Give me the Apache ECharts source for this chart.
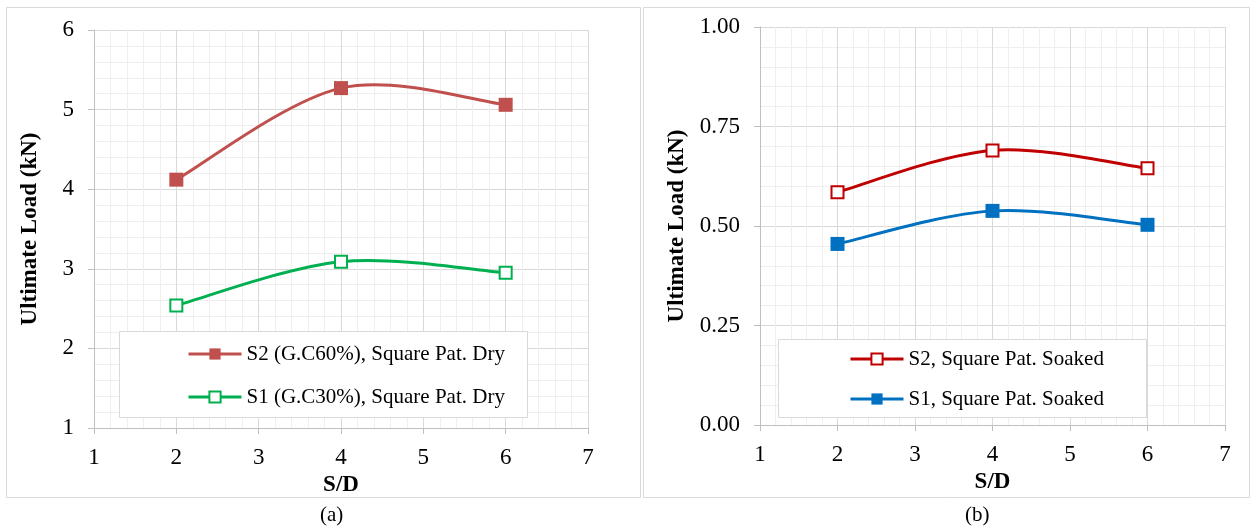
<!DOCTYPE html>
<html>
<head>
<meta charset="utf-8">
<script src="https://cdn.jsdelivr.net/npm/echarts@6/dist/echarts.min.js"></script>
<style>
  html, body { margin: 0; padding: 0; background: #fff; }
  #chart { width: 1253px; height: 528px; }
</style>
</head>
<body>
<div id="chart"></div>
<script>
// S/D spacing ratios
const spacing = [2, 4, 6];

// (a) dry condition, ultimate load in kN
const dryS2 = [4.12, 5.27, 5.06];
const dryS1 = [2.54, 3.09, 2.95];

// (b) soaked condition, ultimate load in kN
const soakedS2 = [0.585, 0.69, 0.645];
const soakedS1 = [0.455, 0.538, 0.503];

const names = {
  dryS2: 'S2 (G.C60%), Square Pat. Dry',
  dryS1: 'S1 (G.C30%), Square Pat. Dry',
  soakedS2: 'S2, Square Pat. Soaked',
  soakedS1: 'S1, Square Pat. Soaked'
};

const colors = {
  dryS2: '#C0504D',
  dryS1: '#00B050',
  soakedS2: '#C00000',
  soakedS1: '#0070C0'
};

const serif = '"Liberation Serif", "Times New Roman", serif';
const pairs = (ys) => spacing.map((x, i) => [x, ys[i]]);

const chart = echarts.init(document.getElementById('chart'), null, { renderer: 'canvas' });

function xAxisFor(gridIndex) {
  return {
    gridIndex, type: 'value', min: 1, max: 7, interval: 1,
    name: 'S/D', nameLocation: 'middle', nameGap: 46,
    nameTextStyle: { fontFamily: serif, fontSize: 23, fontWeight: 'bold', color: '#000' },
    axisLine: { show: true, lineStyle: { color: '#BFBFBF', width: 1 } },
    axisTick: { show: true, length: 6, lineStyle: { color: '#BFBFBF' } },
    axisLabel: { fontFamily: serif, fontSize: 23, color: '#000', margin: 18 },
    splitLine: { show: true, lineStyle: { color: '#D9D9D9', width: 1 } },
    minorTick: { show: true, splitNumber: 5, length: 0 },
    minorSplitLine: { show: true, lineStyle: { color: '#EFEFEF', width: 1 } }
  };
}

function yAxisFor(gridIndex, min, max, interval, fmt, gap) {
  return {
    gridIndex, type: 'value', min, max, interval,
    name: 'Ultimate Load (kN)', nameLocation: 'middle', nameGap: gap,
    nameTextStyle: { fontFamily: serif, fontSize: 23, fontWeight: 'bold', color: '#000' },
    axisLine: { show: true, lineStyle: { color: '#BFBFBF', width: 1 } },
    axisTick: { show: true, length: 6, lineStyle: { color: '#BFBFBF' } },
    axisLabel: { fontFamily: serif, fontSize: 23, color: '#000', margin: 20, formatter: fmt },
    splitLine: { show: true, lineStyle: { color: '#D9D9D9', width: 1 } },
    minorTick: { show: true, splitNumber: 5, length: 0 },
    minorSplitLine: { show: true, lineStyle: { color: '#EFEFEF', width: 1 } }
  };
}

// Markers for each measured point (the connecting curve is drawn separately)
function markerSeries(key, data, hollow, idx) {
  const color = colors[key];
  return {
    name: names[key], type: 'line', xAxisIndex: idx, yAxisIndex: idx,
    data: pairs(data),
    symbol: 'rect', symbolSize: hollow ? 12 : 14,
    lineStyle: { color, width: 3, opacity: 0 },
    itemStyle: hollow
      ? { color: '#fff', borderColor: color, borderWidth: 2 }
      : { color, borderColor: color, borderWidth: 0 },
    emphasis: { disabled: true },
    silent: true,
    z: 6
  };
}

// Smoothed connecting curve: cubic Bezier segments whose tangents follow
// neighbouring points (tension 1/6), end points reuse themselves as neighbours.
function curveSeries(key, data, idx) {
  const color = colors[key];
  return {
    name: key + '-curve', type: 'custom', coordinateSystem: 'cartesian2d',
    xAxisIndex: idx, yAxisIndex: idx,
    data: pairs(data),
    silent: true, z: 5,
    renderItem: (params, api) => {
      if (params.dataIndex !== 0) return null;
      const p = spacing.map((x, i) => api.coord([x, data[i]]));
      const n = p.length;
      const at = (i) => p[Math.max(0, Math.min(n - 1, i))];
      let d = 'M' + p[0][0] + ' ' + p[0][1];
      for (let i = 0; i < n - 1; i++) {
        const p0 = at(i - 1), p1 = at(i), p2 = at(i + 1), p3 = at(i + 2);
        const c1 = [p1[0] + (p2[0] - p0[0]) / 6, p1[1] + (p2[1] - p0[1]) / 6];
        const c2 = [p2[0] - (p3[0] - p1[0]) / 6, p2[1] - (p3[1] - p1[1]) / 6];
        d += ' C' + c1[0] + ' ' + c1[1] + ' ' + c2[0] + ' ' + c2[1] + ' ' + p2[0] + ' ' + p2[1];
      }
      return {
        type: 'path',
        shape: { pathData: d },
        style: { stroke: color, lineWidth: 3, fill: 'none', lineCap: 'round' }
      };
    }
  };
}

function legendAt(left, top, gap, keys) {
  return {
    data: keys.map((k) => ({
      name: names[k],
      lineStyle: { color: colors[k], width: 3, opacity: 1 }
    })),
    orient: 'vertical', left, top, padding: 0,
    itemWidth: 53, itemHeight: 14, itemGap: gap,
    textStyle: { fontFamily: serif, fontSize: 21, color: '#000', lineHeight: 22 },
    z: 10, selectedMode: false
  };
}

const option = {
  backgroundColor: '#fff',
  animation: false,
  grid: [
    { left: 94, top: 30, width: 494, height: 398 },
    { left: 760, top: 27, width: 465, height: 398 }
  ],
  xAxis: [xAxisFor(0), xAxisFor(1)],
  yAxis: [
    yAxisFor(0, 1, 6, 1, (v) => String(v), 52),
    yAxisFor(1, 0, 1, 0.25, (v) => v.toFixed(2), 71)
  ],
  legend: [
    legendAt(187, 343, 21, ['dryS2', 'dryS1']),
    legendAt(849, 348, 18, ['soakedS2', 'soakedS1'])
  ],
  series: [
    curveSeries('dryS2', dryS2, 0),
    curveSeries('dryS1', dryS1, 0),
    curveSeries('soakedS2', soakedS2, 1),
    curveSeries('soakedS1', soakedS1, 1),
    markerSeries('dryS2', dryS2, false, 0),
    markerSeries('dryS1', dryS1, true, 0),
    markerSeries('soakedS2', soakedS2, true, 1),
    markerSeries('soakedS1', soakedS1, false, 1)
  ],
  graphic: [
    // panel frames
    { type: 'rect', shape: { x: 6.5, y: 7.5, width: 634, height: 490 }, style: { fill: 'none', stroke: '#D9D9D9', lineWidth: 1 }, z: 1 },
    { type: 'rect', shape: { x: 643.5, y: 7.5, width: 606, height: 490 }, style: { fill: 'none', stroke: '#D9D9D9', lineWidth: 1 }, z: 1 },
    // legend boxes
    { type: 'rect', shape: { x: 119.5, y: 331.5, width: 408, height: 86 }, style: { fill: '#fff', stroke: '#D9D9D9', lineWidth: 1 }, z: 3 },
    { type: 'rect', shape: { x: 778.5, y: 339.5, width: 368, height: 78 }, style: { fill: '#fff', stroke: '#D9D9D9', lineWidth: 1 }, z: 3 },
    // panel captions
    { type: 'text', left: 320, top: 505, style: { text: '(a)', font: '21px ' + serif, fill: '#000', textAlign: 'center' }, z: 5 },
    { type: 'text', left: 965, top: 505, style: { text: '(b)', font: '21px ' + serif, fill: '#000', textAlign: 'center' }, z: 5 }
  ]
};

chart.setOption(option);
</script>
</body>
</html>
